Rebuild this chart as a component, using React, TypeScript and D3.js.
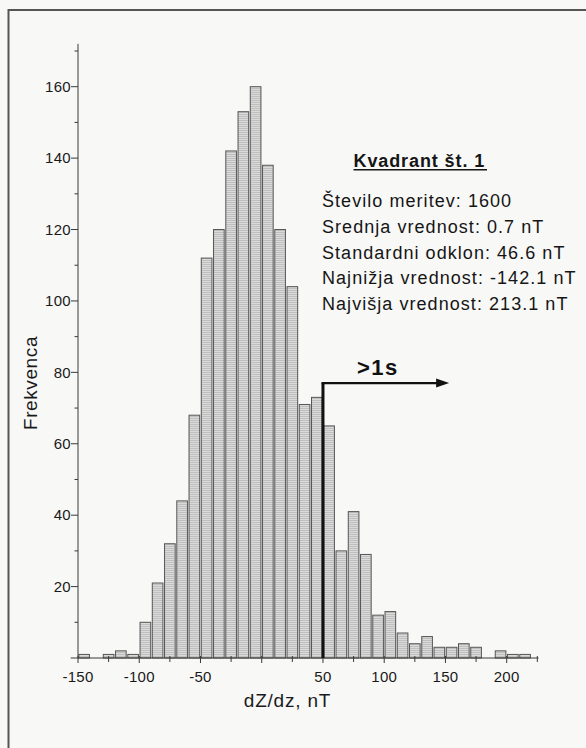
import React from 'react';
import * as d3 from 'd3';

// Histogram bins (lower edge, nT) and frequencies
const binStarts = [-150, -140, -130, -120, -110, -100, -90, -80, -70, -60, -50, -40, -30, -20, -10, 0, 10, 20, 30, 40, 50, 60, 70, 80, 90, 100, 110, 120, 130, 140, 150, 160, 170, 180, 190, 200, 210];
const counts = [1, 0, 1, 2, 1, 10, 21, 32, 44, 68, 112, 120, 142, 153, 160, 138, 120, 104, 71, 73, 65, 30, 41, 29, 12, 13, 7, 4, 6, 3, 3, 4, 3, 0, 2, 1, 1];
const binWidth = 10;

const yMajorTicks = [20, 40, 60, 80, 100, 120, 140, 160];
const yMinorTicks = [10, 30, 50, 70, 90, 110, 130, 150, 170];
const xTicks = [-150, -125, -100, -75, -50, -25, 0, 25, 50, 75, 100, 125, 150, 175, 200, 225];
const xTickLabels = [-150, -100, -50, 50, 100, 150, 200];

const title = 'Kvadrant št. 1';
const statLines = [
  'Število meritev: 1600',
  'Srednja vrednost: 0.7 nT',
  'Standardni odklon: 46.6 nT',
  'Najnižja vrednost: -142.1 nT',
  'Najvišja vrednost: 213.1 nT',
];
const thresholdX = 50;
const arrowLevel = 77;
const arrowEnd = 153;

const W = 586;
const H = 748;
const FONT = '"Liberation Sans", Arial, Helvetica, sans-serif';

export default function App() {
  const x = d3.scaleLinear().domain([-150, 200]).range([78, 506.7]);
  const y = d3.scaleLinear().domain([0, 160]).range([658, 86.7]);
  const axisColor = '#3a3a3a';

  return (
    <svg
      width={W}
      height={H}
      viewBox={`0 0 ${W} ${H}`}
      style={{ position: 'absolute', left: 0, top: 0, background: '#f8f8f7' }}
      fontFamily={FONT}
    >
      <defs>
        <pattern id="hatch" width="4" height="2" patternUnits="userSpaceOnUse">
          <rect width="4" height="2" fill="#dadada" />
          <line x1="0" y1="0.5" x2="4" y2="0.5" stroke="#b9b9b9" strokeWidth="0.8" />
        </pattern>
      </defs>
      <rect x={0} y={0} width={W} height={H} fill="#f8f8f7" />
      {/* frame */}
      <path d={`M 8.5 ${H} V 10 H ${W}`} fill="none" stroke="#555" strokeWidth={2} />

      {/* bars */}
      {binStarts.map((b, i) =>
        counts[i] > 0 ? (
          <rect
            key={b}
            x={x(b) + 0.8}
            y={y(counts[i])}
            width={x(b + binWidth) - x(b) - 1.6}
            height={y(0) - y(counts[i])}
            fill="url(#hatch)"
            stroke="#555"
            strokeWidth={1}
          />
        ) : null
      )}

      {/* x axis */}
      <line x1={x(-156)} x2={x(226)} y1={y(0)} y2={y(0)} stroke={axisColor} strokeWidth={1} />
      {xTicks.map((t) => (
        <line
          key={t}
          x1={x(t)}
          x2={x(t)}
          y1={y(0) - 2}
          y2={y(0) + (t % 50 === 0 ? 5 : 4)}
          stroke={axisColor}
          strokeWidth={1}
        />
      ))}
      {xTickLabels.map((t) => (
        <text
          key={t}
          x={x(t)}
          y={681.5}
          textAnchor="middle"
          fontSize={15}
          letterSpacing={0.3}
          fill="#1a1a1a"
        >
          {t}
        </text>
      ))}

      {/* y axis */}
      <line x1={x(-150)} x2={x(-150)} y1={y(0)} y2={y(172)} stroke={axisColor} strokeWidth={1} />
      {yMajorTicks.map((t) => (
        <g key={t}>
          <line x1={x(-150) - 7} x2={x(-150)} y1={y(t)} y2={y(t)} stroke={axisColor} strokeWidth={1} />
          <text
            x={x(-150) - 7}
            y={y(t) + 5.2}
            textAnchor="end"
            fontSize={15}
            letterSpacing={0.3}
            fill="#1a1a1a"
          >
            {t}
          </text>
        </g>
      ))}
      {yMinorTicks.map((t) => (
        <line key={t} x1={x(-150) - 3.5} x2={x(-150)} y1={y(t)} y2={y(t)} stroke={axisColor} strokeWidth={1} />
      ))}

      {/* axis titles */}
      <text
        transform={`translate(37,383) rotate(-90)`}
        textAnchor="middle"
        fontSize={19}
        letterSpacing={0.6}
        fill="#1a1a1a"
      >
        Frekvenca
      </text>
      <text x={287.5} y={706.5} textAnchor="middle" fontSize={19} letterSpacing={0.8} fill="#1a1a1a">
        dZ/dz, nT
      </text>

      {/* threshold marker and arrow */}
      <line x1={x(thresholdX)} x2={x(thresholdX)} y1={y(0)} y2={y(arrowLevel)} stroke="#111" strokeWidth={3} />
      <line
        x1={x(thresholdX) - 1.5}
        x2={x(arrowEnd) - 10}
        y1={y(arrowLevel)}
        y2={y(arrowLevel)}
        stroke="#111"
        strokeWidth={2.2}
      />
      <path
        d={`M ${x(arrowEnd)} ${y(arrowLevel)} L ${x(arrowEnd) - 13} ${y(arrowLevel) - 4.5} L ${x(arrowEnd) - 13} ${y(arrowLevel) + 4.5} Z`}
        fill="#111"
      />
      <text x={357} y={375} fontSize={22} fontWeight="bold" letterSpacing={1.5} fill="#111">
        &gt;1s
      </text>

      {/* statistics box */}
      <text x={353.5} y={166.5} fontSize={18} fontWeight="bold" letterSpacing={0.9} fill="#151515">
        {title}
      </text>
      <line x1={353.5} x2={487} y1={169.8} y2={169.8} stroke="#151515" strokeWidth={1.5} />
      {statLines.map((s, i) => (
        <text key={s} x={322} y={207.3 + i * 25.7} fontSize={18} letterSpacing={1.05} fill="#151515">
          {s}
        </text>
      ))}
    </svg>
  );
}
